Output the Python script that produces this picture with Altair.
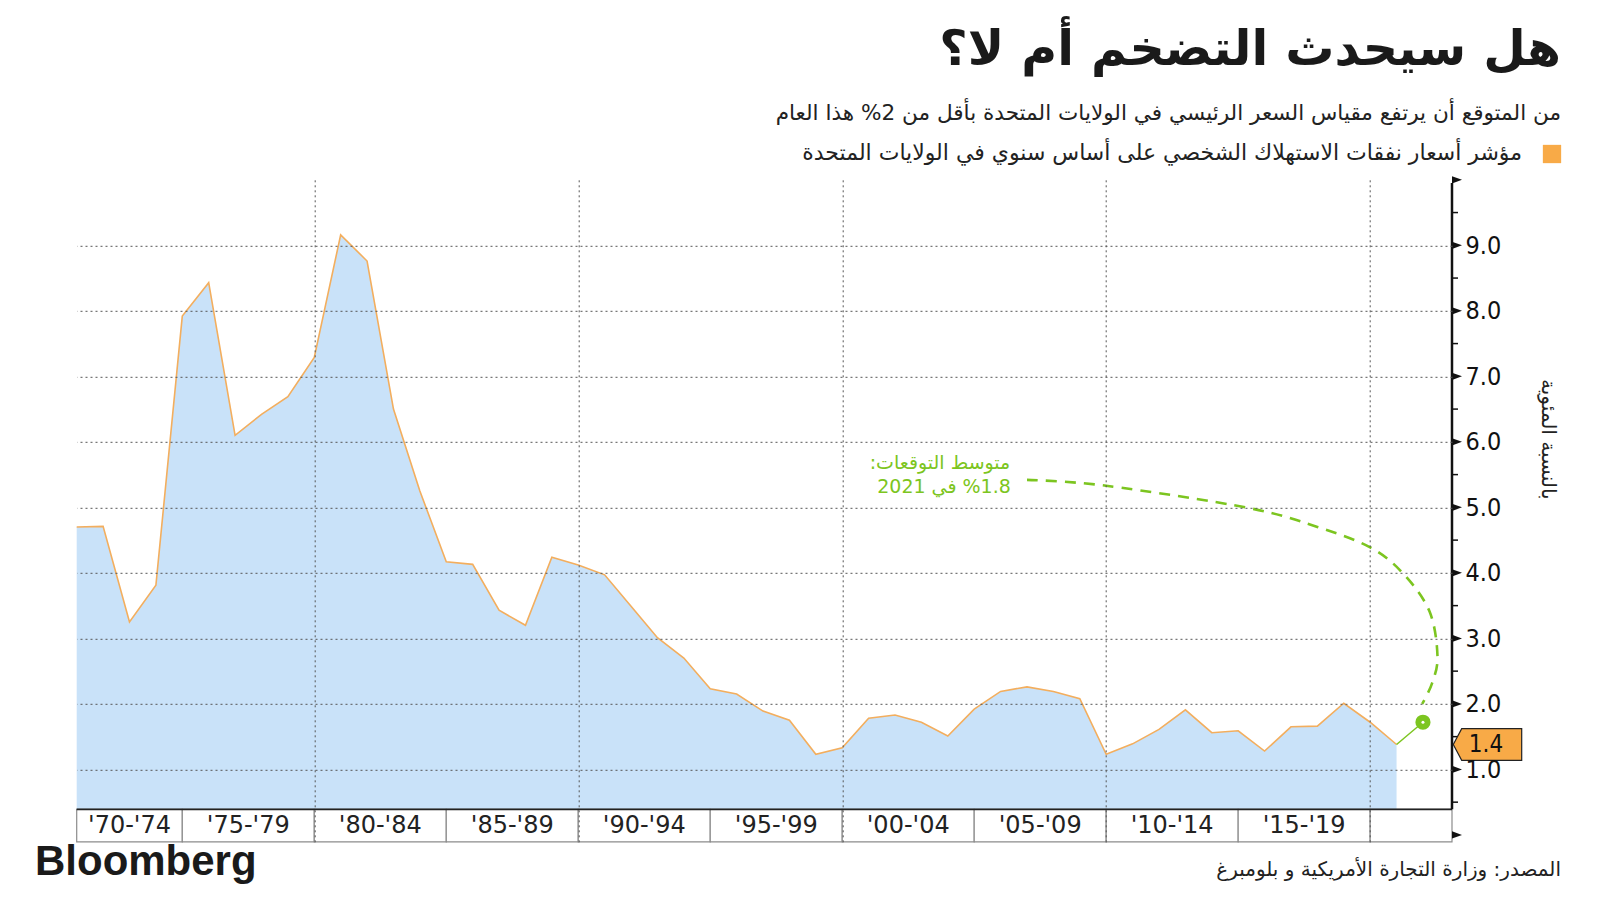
import altair as alt
import pandas as pd

# ---------------- data ----------------
years = list(range(1970, 2021))
pce = [4.70, 4.71, 3.25, 3.81, 7.92, 8.43, 6.10, 6.42, 6.69, 7.29,
       9.16, 8.76, 6.50, 5.25, 4.17, 4.13, 3.43, 3.20, 4.24, 4.12,
       3.97, 3.49, 3.01, 2.70, 2.23, 2.15, 1.89, 1.75, 1.23, 1.33,
       1.78, 1.83, 1.72, 1.51, 1.92, 2.19, 2.26, 2.19, 2.08, 1.23,
       1.39, 1.61, 1.91, 1.56, 1.59, 1.28, 1.65, 1.66, 2.01, 1.72,
       1.38]

forecast_year = [2021]
forecast_value = [1.72]

arc_years = [2006.0, 2009.0, 2014.4, 2017.0, 2019.0, 2020.25, 2021.25, 2021.55, 2021.35, 2020.97]
arc_values = [5.42, 5.33, 4.99, 4.70, 4.39, 3.99, 3.41, 2.73, 2.32, 2.0]

band_labels = ["'70-'74", "'75-'79", "'80-'84", "'85-'89", "'90-'94",
               "'95-'99", "'00-'04", "'05-'09", "'10-'14", "'15-'19", ""]
band_start = [1970, 1974, 1979, 1984, 1989, 1994, 1999, 2004, 2009, 2014, 2019]
band_end = [1974, 1979, 1984, 1989, 1994, 1999, 2004, 2009, 2014, 2019, 2022.1]

y_labels = [1, 2, 3, 4, 5, 6, 7, 8, 9]
y_minor = [0.5, 1.5, 2.5, 3.5, 4.5, 5.5, 6.5, 7.5, 8.5, 9.5]
x_grid = [1979, 1989, 1999, 2009, 2019]

TITLE = "هل سيحدث التضخم أم لا؟"
SUBTITLE = "من المتوقع أن يرتفع مقياس السعر الرئيسي في الولايات المتحدة بأقل من 2% هذا العام"
LEGEND = "مؤشر أسعار نفقات الاستهلاك الشخصي على أساس سنوي في الولايات المتحدة"
Y_TITLE = "بالنسبة المئوية"
ANN1 = "متوسط التوقعات:\u200f"
ANN2 = "\u061c1.8% في 2021"
SOURCE = "المصدر: وزارة التجارة الأمريكية و بلومبرغ"
BRAND = "Bloomberg"

# ---------------- layout / style ----------------
X_MIN, X_END = 1970, 2022.1
Y_MIN, Y_MAX = -0.105, 10.0
BASE = 0.39
W, H = 1375.3, 662
PAD_L, PAD_T, PAD_R, PAD_B = 68.7, 171.8, 140, 48

BLUE = "#c9e2f9"
ORANGE_LINE = "#f3ae5e"
ORANGE = "#f8aa47"
GREEN = "#7cc520"
INK = "#111111"
AR_FONT = "DejaVu Sans"
NUM_FONT = "DejaVu Sans Condensed, Liberation Sans, sans-serif"


def px(x_abs):
    return x_abs - 8 - PAD_L


def py(y_abs):
    return y_abs - 8 - PAD_T


xs = alt.Scale(domain=[X_MIN, X_END], nice=False, zero=False)
ys = alt.Scale(domain=[Y_MIN, Y_MAX], nice=False, zero=False)

df = pd.DataFrame({"year": years, "pce": pce})
last = df.tail(1)
bands = pd.DataFrame({"label": band_labels, "start": band_start, "end": band_end})
bands["mid"] = (bands["start"] + bands["end"]) / 2
one = pd.DataFrame({"k": [0]})

# ---------------- layers ----------------
area = alt.Chart(df).mark_area(color=BLUE, opacity=1).encode(
    x=alt.X("year:Q", scale=xs, axis=alt.Axis(
        values=x_grid, grid=True, gridDash=[2, 3], gridColor="#555", gridWidth=1,
        labels=False, ticks=False, domain=False, title="", zindex=1)),
    y=alt.Y("pce:Q", scale=ys, axis=alt.Axis(
        orient="right", values=y_labels, format=".1f", grid=True, gridDash=[2, 3],
        gridColor="#555", gridWidth=1, ticks=False, domain=False, labelPadding=13,
        labelFontSize=25, labelFont=NUM_FONT, labelColor=INK,
        title=Y_TITLE, titleAngle=90, titleX=96, titleY=259, titleFontSize=20,
        titleFontWeight="normal", titleFont=AR_FONT, titleColor="#222",
        titleAlign="center", titleBaseline="middle", zindex=1)),
    y2=alt.datum(BASE),
)

band_rects = alt.Chart(bands).mark_rect(fill="white", stroke="#8c8c8c", strokeWidth=1.2).encode(
    x=alt.X("start:Q", scale=xs),
    x2="end:Q",
    y=alt.Y(datum=Y_MIN, scale=ys),
    y2=alt.datum(BASE),
)

band_text = alt.Chart(bands).mark_text(font="DejaVu Sans", fontSize=24, color="#222").encode(
    x=alt.X("mid:Q", scale=xs),
    y=alt.Y(datum=(Y_MIN + BASE) / 2, scale=ys),
    text="label:N",
)

line = alt.Chart(df).mark_line(color=ORANGE_LINE, strokeWidth=1.6).encode(
    x=alt.X("year:Q", scale=xs),
    y=alt.Y("pce:Q", scale=ys),
)

axis_line = alt.Chart(one).mark_rule(color=INK, strokeWidth=2.5).encode(
    x=alt.X(datum=X_END, scale=xs),
    y=alt.Y(datum=BASE, scale=ys),
    y2=alt.datum(9.95),
)

box_top = alt.Chart(one).mark_rule(color="#222", strokeWidth=1.6).encode(
    x=alt.X(datum=X_MIN, scale=xs),
    x2=alt.datum(X_END),
    y=alt.Y(datum=BASE, scale=ys),
)

TRI = "M0,-0.36L1,0L0,0.36Z"
tri_df = pd.DataFrame({"v": y_labels + [10.0, 0.0]})
triangles = alt.Chart(tri_df).mark_point(shape=TRI, size=400, filled=True, color=INK, opacity=1).encode(
    x=alt.X(datum=X_END, scale=xs),
    y=alt.Y("v:Q", scale=ys),
)

minor = alt.Chart(pd.DataFrame({"v": y_minor})).mark_tick(
    orient="horizontal", size=6, thickness=1.5, color=INK, xOffset=3, opacity=1).encode(
    x=alt.X(datum=X_END, scale=xs),
    y=alt.Y("v:Q", scale=ys),
)

BOX = "M0.13,0L0.97,-1.58L6.97,-1.58L6.97,1.58L0.97,1.58Z"
label_box = alt.Chart(last).mark_point(shape=BOX, size=400, filled=True, fill=ORANGE,
                                       stroke="#222", strokeWidth=1.2, opacity=1).encode(
    x=alt.X(datum=X_END, scale=xs),
    y=alt.Y("pce:Q", scale=ys),
)
label_text = alt.Chart(last).mark_text(font=NUM_FONT, fontSize=24, color=INK, dx=34, dy=0).encode(
    x=alt.X(datum=X_END, scale=xs),
    y=alt.Y("pce:Q", scale=ys),
    text=alt.Text("pce:Q", format=".1f"),
)

link_df = pd.DataFrame({"year": [years[-1], forecast_year[0]], "v": [pce[-1], forecast_value[0]]})
link = alt.Chart(link_df).mark_line(color=GREEN, strokeWidth=1.5).encode(
    x=alt.X("year:Q", scale=xs),
    y=alt.Y("v:Q", scale=ys),
)

arc_df = pd.DataFrame({"year": arc_years, "v": arc_values, "i": list(range(len(arc_years)))})
arc = alt.Chart(arc_df).mark_line(color=GREEN, strokeWidth=2.6, strokeDash=[11, 8],
                                  interpolate="cardinal").encode(
    x=alt.X("year:Q", scale=xs),
    y=alt.Y("v:Q", scale=ys),
    order="i:Q",
)

fc_df = pd.DataFrame({"year": forecast_year, "v": forecast_value})
dot = alt.Chart(fc_df).mark_point(shape="circle", size=230, filled=True, color=GREEN, opacity=1).encode(
    x=alt.X("year:Q", scale=xs),
    y=alt.Y("v:Q", scale=ys),
)
dot_c = alt.Chart(fc_df).mark_point(shape="circle", size=9, filled=True, color="white", opacity=1).encode(
    x=alt.X("year:Q", scale=xs),
    y=alt.Y("v:Q", scale=ys),
)


def text_layer(txt, x, y, size, color="#1a1a1a", align="right", weight="normal", font=AR_FONT,
               baseline="middle"):
    return alt.Chart(pd.DataFrame({"t": [txt]})).mark_text(
        align=align, baseline=baseline, fontSize=size, fontWeight=weight, font=font, color=color
    ).encode(x=alt.value(x), y=alt.value(y), text="t:N")


ann1 = text_layer(ANN1, px(940), py(463), 19, color=GREEN, align="center")
ann2 = text_layer(ANN2, px(944), py(487), 19, color=GREEN, align="center")

title = text_layer(TITLE, px(1561), py(50), 49, weight="bold")
subtitle = text_layer(SUBTITLE, px(1561), py(114), 21.6, color="#222")
legend_text = text_layer(LEGEND, px(1522), py(153), 22, color="#222")
legend_sq = alt.Chart(one).mark_square(size=335, color=ORANGE, opacity=1).encode(
    x=alt.value(px(1552)), y=alt.value(py(154)))
brand = text_layer(BRAND, px(35), py(875), 42, color="#1a1a1a", align="left", weight="bold",
                   font="Liberation Sans, Arial, sans-serif", baseline="alphabetic")
source = text_layer(SOURCE, px(1561), py(870), 20, color="#222")

chart = alt.layer(
    area, line, band_rects, band_text, box_top, axis_line, minor, triangles,
    label_box, label_text, link, arc, dot, dot_c, ann1, ann2,
    title, subtitle, legend_text, legend_sq, brand, source,
).properties(
    width=W, height=H,
    autosize=alt.AutoSizeParams(type="none"),
    padding={"left": PAD_L, "top": PAD_T, "right": PAD_R, "bottom": PAD_B},
    background="white",
).configure_view(strokeWidth=0)

chart.save("out.html", embed_options={"renderer": "svg", "actions": False})
